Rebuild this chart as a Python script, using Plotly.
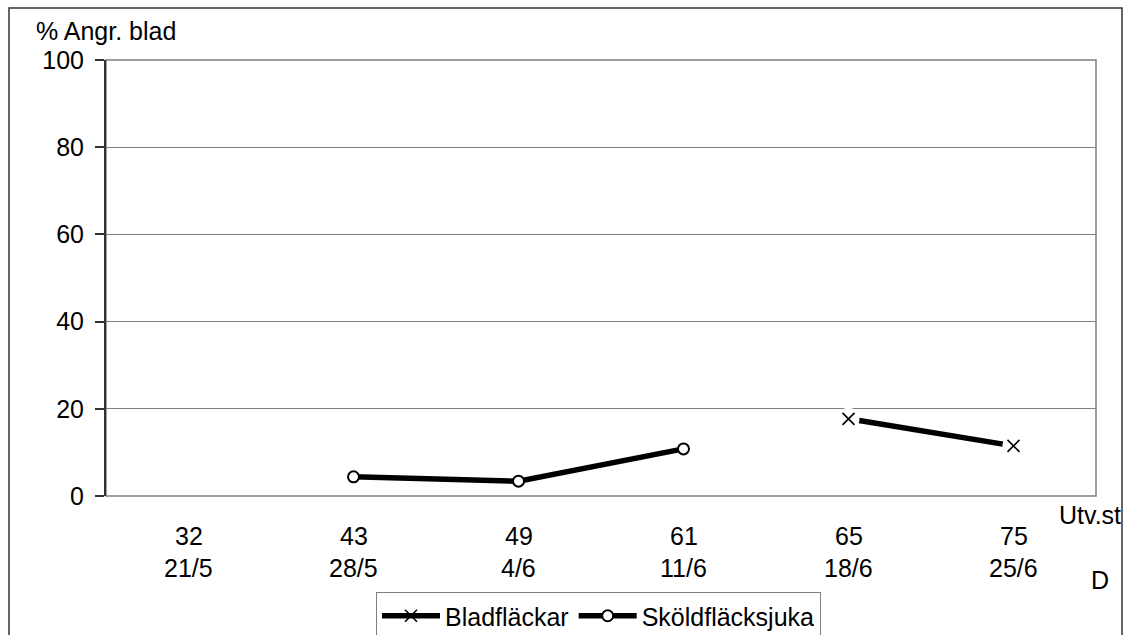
import plotly.graph_objects as go

# Development stage (Utv.st) and date for each observation
stages = ["32", "43", "49", "61", "65", "75"]
dates = ["21/5", "28/5", "4/6", "11/6", "18/6", "25/6"]

# % attacked leaves per disease (None = not observed)
bladflackar = [None, None, None, None, 17.7, 11.5]
skoldflacksjuka = [None, 4.4, 3.4, 10.8, None, None]

y_ticks = [0, 20, 40, 60, 80, 100]

FONT = "Liberation Sans, Arial, sans-serif"
FS = 25

W, H = 1125, 635
L, R, T, B = 106, 29, 60, 139
PW, PH = W - L - R, H - T - B


def px_x(px):
    return (px - L) / PW


def px_y(py):
    return (H - B - py) / PH


xpos = list(range(len(stages)))

fig = go.Figure()

# Bladfläckar: thick line with thin crosses, line kept clear of the crosses
fig.add_trace(go.Scatter(
    x=xpos, y=bladflackar, mode="lines+markers", name="Bladfläckar",
    line=dict(color="black", width=5.5),
    marker=dict(symbol="x-thin", size=12, line=dict(color="black", width=1.6)),
))
fig.add_trace(go.Scatter(
    x=xpos, y=bladflackar, mode="markers", showlegend=False, hoverinfo="skip",
    marker=dict(symbol="circle", size=22, color="white", line=dict(width=0)),
))
fig.add_trace(go.Scatter(
    x=xpos, y=bladflackar, mode="markers", showlegend=False,
    marker=dict(symbol="x-thin", size=12, line=dict(color="black", width=1.6)),
))

# Sköldfläcksjuka: thick line with open circles
fig.add_trace(go.Scatter(
    x=xpos, y=skoldflacksjuka, mode="lines+markers", name="Sköldfläcksjuka",
    line=dict(color="black", width=5.5),
    marker=dict(symbol="circle", size=11, color="white",
                line=dict(color="black", width=2)),
))

fig.update_layout(
    width=W, height=H,
    margin=dict(l=L, r=R, t=T, b=B, autoexpand=False),
    paper_bgcolor="white", plot_bgcolor="white",
    font=dict(family=FONT, size=FS, color="black"),
    showlegend=True,
    legend=dict(
        orientation="h", xref="container", yref="container",
        x=376 / W, y=(H - 592) / H,
        xanchor="left", yanchor="top",
        bordercolor="#808080", borderwidth=1, bgcolor="white",
        font=dict(family=FONT, size=FS, color="black"),
        itemwidth=58, tracegroupgap=0,
    ),
    xaxis=dict(
        range=[-0.5, len(stages) - 0.5], showgrid=False, zeroline=False,
        showticklabels=False, ticks="", showline=False, fixedrange=True,
    ),
    yaxis=dict(
        range=[0, 100], tickvals=y_ticks, ticktext=[str(v) for v in y_ticks],
        showgrid=True, gridcolor="#808080", gridwidth=1,
        zeroline=False, showline=True, linecolor="#333333", linewidth=2,
        ticks="outside", ticklen=9, tickcolor="#333333", tickwidth=1.5,
        ticklabelstandoff=6,
    ),
)

# Stage and date labels under each category
ann = []
for i, (s, d) in enumerate(zip(stages, dates)):
    ann.append(dict(x=i, y=px_y(536), xref="x", yref="paper", text=s,
                    showarrow=False, xanchor="center", yanchor="middle"))
    ann.append(dict(x=i, y=px_y(568), xref="x", yref="paper", text=d,
                    showarrow=False, xanchor="center", yanchor="middle"))
ann.append(dict(x=px_x(1123), y=px_y(515), xref="paper", yref="paper",
                text="Utv.st", showarrow=False, xanchor="right", yanchor="middle"))
ann.append(dict(x=px_x(1100), y=px_y(580), xref="paper", yref="paper",
                text="D", showarrow=False, xanchor="center", yanchor="middle"))
ann.append(dict(x=px_x(34), y=px_y(31), xref="paper", yref="paper",
                text="% Angr. blad", showarrow=False, xanchor="left", yanchor="middle"))
fig.update_layout(annotations=ann)

fig.update_layout(shapes=[
    # plot area border (grey)
    dict(type="rect", xref="paper", yref="paper", x0=0, x1=1, y0=0, y1=1,
         line=dict(color="#808080", width=1.5), layer="below"),
    # outer chart frame
    dict(type="rect", xref="paper", yref="paper",
         x0=px_x(9), x1=px_x(1122), y0=px_y(700), y1=px_y(8),
         line=dict(color="#333333", width=1.5)),
])

fig.write_html("out.html")
